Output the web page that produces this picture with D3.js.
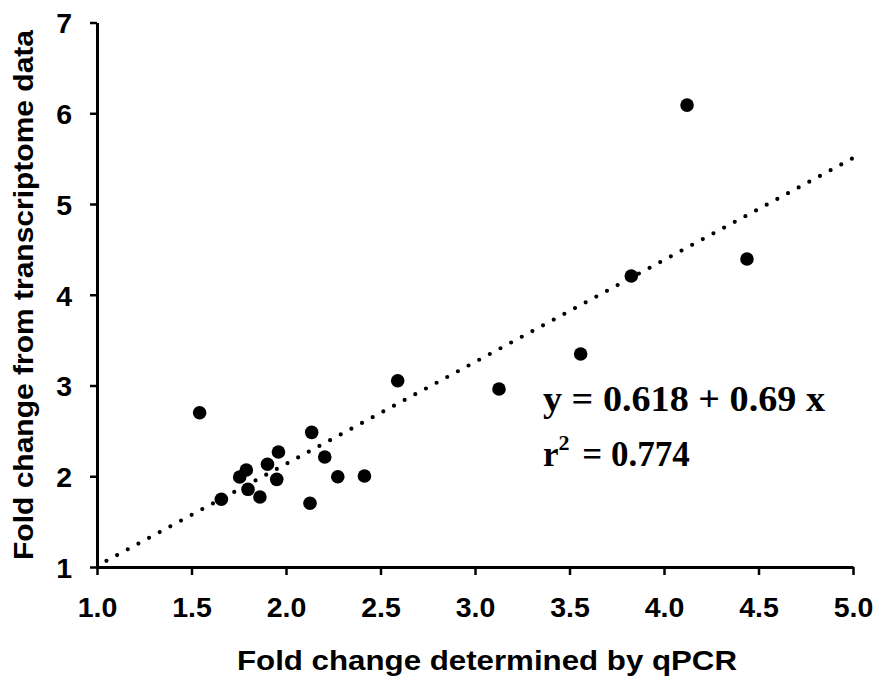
<!DOCTYPE html>
<html><head><meta charset="utf-8">
<script src="https://cdn.jsdelivr.net/npm/d3@7"></script>
<style>body{margin:0;background:#fff}svg{display:block}</style>
</head><body>
<script>
const qpcr = [4.122,4.439,3.827,3.559,2.591,3.127,2.136,2.205,2.274,2.415,2.127,1.960,1.902,1.951,1.790,1.755,1.799,1.862,1.658,1.543];
const transcriptome = [6.09,4.394,4.207,3.347,3.053,2.961,2.484,2.212,1.995,2.003,1.702,2.267,2.132,1.966,2.069,1.992,1.856,1.771,1.746,2.700];
const trendX = [1.05, 5.0];
const trendY = [1.068, 5.506];
const xTicks = [1.0,1.5,2.0,2.5,3.0,3.5,4.0,4.5,5.0];
const yTicks = [1,2,3,4,5,6,7];
const xTitle = "Fold change determined by qPCR";
const yTitle = "Fold change from transcriptome data";
const eqText = "y = 0.618 + 0.69 x";
const r2Text = "= 0.774";

const W=879,H=679;
const svg=d3.select("body").append("svg").attr("width",W).attr("height",H);
const x=d3.scaleLinear().domain([1,5]).range([97,853]);
const y=d3.scaleLinear().domain([1,7]).range([567,22.5]);
const sans="'Liberation Sans', Arial, sans-serif";
const serif="'Liberation Serif', 'Times New Roman', serif";

const xa=svg.append("g").attr("transform",`translate(0,${y(1)})`)
  .call(d3.axisBottom(x).tickValues(xTicks).tickFormat(d3.format(".1f")).tickSize(8).tickSizeOuter(0).tickPadding(22));
const ya=svg.append("g").attr("transform",`translate(${x(1)},0)`)
  .call(d3.axisLeft(y).tickValues(yTicks).tickFormat(d3.format("d")).tickSize(7).tickSizeOuter(0).tickPadding(18));
[xa,ya].forEach(g=>{
  g.select(".domain").attr("stroke","#000").attr("stroke-width",3);
  g.selectAll(".tick line").attr("stroke","#000").attr("stroke-width",2.5);
  g.selectAll(".tick text").attr("fill","#000").style("font-family",sans).style("font-weight","bold").style("font-size","28.5px");
});
ya.selectAll(".tick text").attr("dy","0.36em");

// trend line
svg.append("line")
  .attr("x1",x(trendX[0])).attr("y1",y(trendY[0]))
  .attr("x2",x(trendX[1])).attr("y2",y(trendY[1]))
  .attr("stroke","#000").attr("stroke-width",4.2)
  .attr("stroke-linecap","round").attr("stroke-dasharray","0 12.1");

// points
svg.append("g").selectAll("circle").data(qpcr.map((v,i)=>[v,transcriptome[i]]))
  .join("circle").attr("cx",d=>x(d[0])).attr("cy",d=>y(d[1])).attr("r",6.8).attr("fill","#000");

// titles
svg.append("text").attr("x",487).attr("y",670).attr("text-anchor","middle")
  .attr("textLength",500).attr("lengthAdjust","spacingAndGlyphs")
  .style("font-family",sans).style("font-weight","bold").style("font-size","28px").text(xTitle);
svg.append("text").attr("transform","translate(33,295) rotate(-90)").attr("text-anchor","middle")
  .attr("textLength",530).attr("lengthAdjust","spacingAndGlyphs")
  .style("font-family",sans).style("font-weight","bold").style("font-size","28px").text(yTitle);

// equation
svg.append("text").attr("x",543).attr("y",411)
  .attr("textLength",282).attr("lengthAdjust","spacingAndGlyphs")
  .style("font-family",serif).style("font-weight","bold").style("font-size","35px").text(eqText);
const r2=svg.append("text").attr("x",543).attr("y",466)
  .style("font-family",serif).style("font-weight","bold").style("font-size","35px");
r2.append("tspan").text("r");
r2.append("tspan").attr("dy",-16).style("font-size","22px").text("2");
r2.append("tspan").attr("dy",16).attr("dx",4).text(" "+r2Text);
</script>
</body></html>
